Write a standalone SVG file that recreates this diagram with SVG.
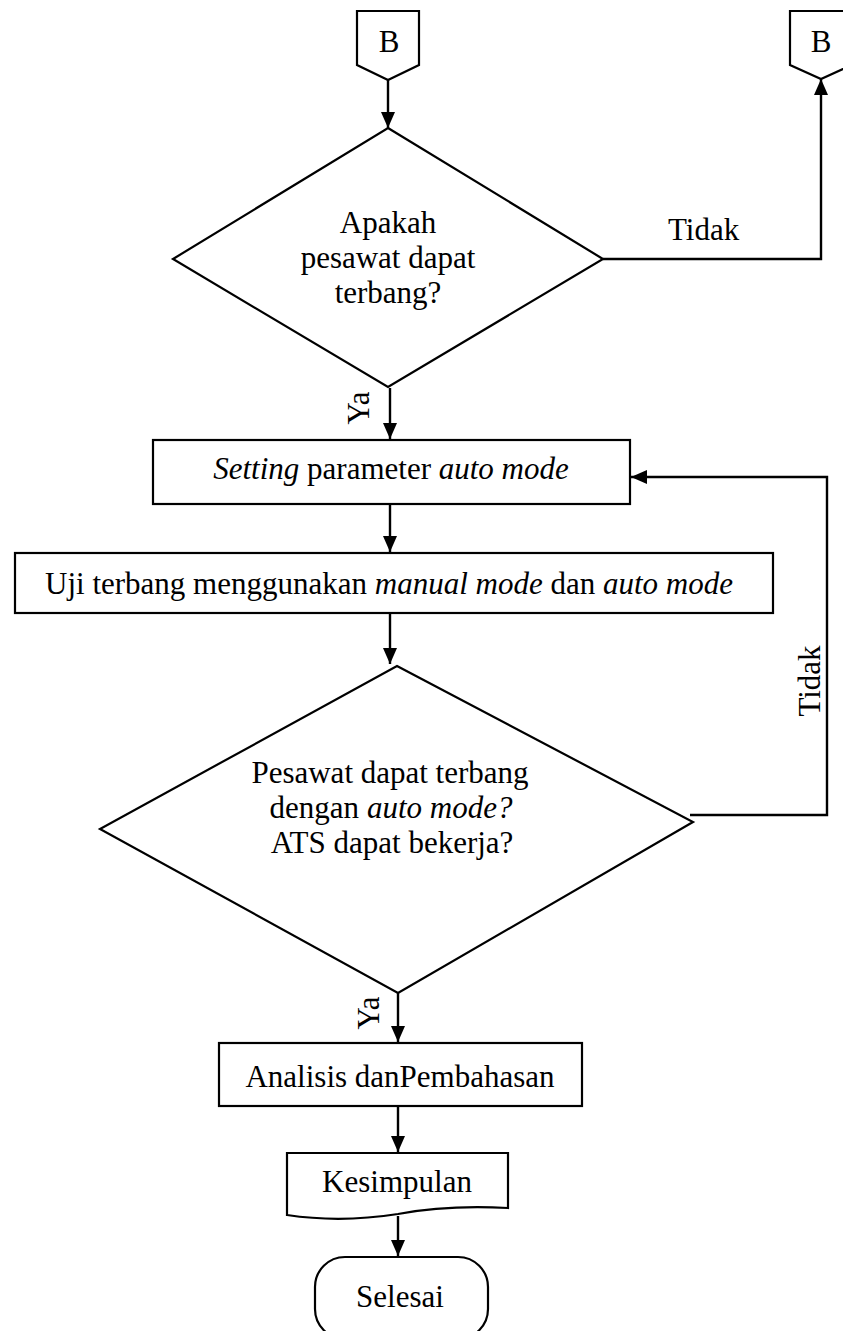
<svg xmlns="http://www.w3.org/2000/svg" width="843" height="1331" viewBox="0 0 843 1331">
<style>
.s{fill:#fff;stroke:#000;stroke-width:2.2}
.c{fill:none;stroke:#000;stroke-width:2.4}
.m{text-anchor:middle}
.i{font-style:italic}
</style>
<defs>
<marker id="ah" viewBox="0 0 16 14" refX="16" refY="7" markerWidth="16" markerHeight="14" markerUnits="userSpaceOnUse" orient="auto">
<path d="M0,0 L16,7 L0,14 Z" fill="#000"/>
</marker>
</defs>
<rect width="843" height="1331" fill="#fff"/>
<g font-family="Liberation Serif, Times New Roman, serif" font-size="31" fill="#000">
<g id="connB1">
<path class="s" d="M357,11 H419 V65 L388,80 L357,65 Z"/>
<text class="m" x="389" y="52">B</text>
</g>
<g id="connB2">
<path class="s" d="M790,11 H852 V65 L821,79 L790,65 Z"/>
<text class="m" x="821" y="52">B</text>
</g>
<g id="dec1">
<path class="s" d="M388,128 L603,259 L388,387 L173,259 Z"/>
<text class="m" x="388" y="233">Apakah</text>
<text class="m" x="388" y="268">pesawat dapat</text>
<text class="m" x="388" y="303">terbang?</text>
</g>
<g id="proc1">
<rect class="s" x="153" y="440" width="477" height="64"/>
<text class="m" x="391" y="479"><tspan class="i">Setting</tspan> parameter <tspan class="i">auto mode</tspan></text>
</g>
<g id="proc2">
<rect class="s" x="15" y="553" width="758" height="60"/>
<text class="m" x="389" y="594">Uji terbang menggunakan <tspan class="i">manual mode</tspan> dan <tspan class="i">auto mode</tspan></text>
</g>
<g id="dec2">
<path class="s" d="M397,666 L693,822 L398,993 L100,829 Z"/>
<text class="m" x="390" y="783">Pesawat dapat terbang</text>
<text class="m" x="391" y="818">dengan <tspan class="i">auto mode?</tspan></text>
<text class="m" x="392" y="853">ATS dapat bekerja?</text>
</g>
<g id="proc3">
<rect class="s" x="219" y="1043" width="363" height="63"/>
<text class="m" x="400" y="1087">Analisis danPembahasan</text>
</g>
<g id="doc">
<path class="s" d="M287,1153 H508 V1208 C470,1206 430,1208 398,1214 C360,1220 320,1220 287,1215 Z"/>
<text class="m" x="397" y="1192">Kesimpulan</text>
</g>
<g id="term">
<rect class="s" x="315" y="1257" width="173" height="82" rx="30" ry="30"/>
<text class="m" x="400" y="1307">Selesai</text>
</g>
<g id="connectors">
<line class="c" x1="388" y1="80" x2="388" y2="128" marker-end="url(#ah)"/>
<polyline class="c" points="603,259 821,259 821,79" marker-end="url(#ah)"/>
<line class="c" x1="390" y1="388" x2="390" y2="439" marker-end="url(#ah)"/>
<line class="c" x1="390" y1="504" x2="390" y2="552" marker-end="url(#ah)"/>
<line class="c" x1="390" y1="613" x2="390" y2="664" marker-end="url(#ah)"/>
<polyline class="c" points="690,815 827,815 827,477 631,477" marker-end="url(#ah)"/>
<line class="c" x1="398" y1="993" x2="398" y2="1042" marker-end="url(#ah)"/>
<line class="c" x1="398" y1="1106" x2="398" y2="1152" marker-end="url(#ah)"/>
<line class="c" x1="398" y1="1216" x2="398" y2="1256" marker-end="url(#ah)"/>
<text x="668" y="240">Tidak</text>
<text transform="translate(820,681) rotate(-90)" class="m">Tidak</text>
<text transform="translate(369,408) rotate(-90)" class="m">Ya</text>
<text transform="translate(379,1013) rotate(-90)" class="m">Ya</text>
</g>
</g>
</svg>
